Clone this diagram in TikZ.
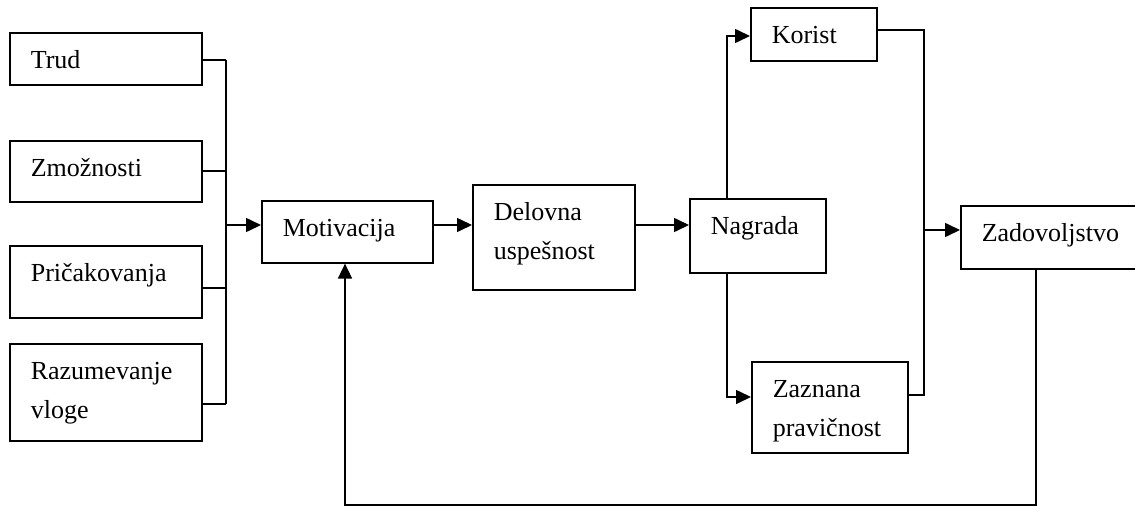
\documentclass[tikz,border=0pt]{standalone}
\usepackage{fontspec}
\setmainfont{Liberation Serif}
\usetikzlibrary{arrows.meta}
\newcommand\boxlbl[3]{\parbox[c][#2][t]{#1}{\raggedright\rule{0pt}{36pt}#3}}
\begin{document}
\begin{tikzpicture}[x=1pt,y=-1pt,
  line width=1.6pt,
  box/.style={draw, line width=1.6pt, anchor=north west, inner xsep=21pt, inner ysep=0pt, font=\fontsize{26}{39}\selectfont},
  conn/.style={line width=1.6pt},
  arr/.style={line width=1.6pt, -{Triangle[length=15pt,width=14pt]}}]
\useasboundingbox (0,0) rectangle (1135,506);
% left inputs
\node[box] (trud) at (9,32) {\boxlbl{150pt}{52pt}{Trud}};
\node[box] (zmoz) at (9,140) {\boxlbl{150pt}{61pt}{Zmožnosti}};
\node[box] (pric) at (9,245) {\boxlbl{150pt}{72pt}{Pričakovanja}};
\node[box] (razu) at (9,343) {\boxlbl{150pt}{97pt}{Razumevanje\\vloge}};
% main chain
\node[box] (moti) at (261,200) {\boxlbl{129pt}{62pt}{Motivacija}};
\node[box] (delo) at (472,184) {\boxlbl{120pt}{105pt}{Delovna\\uspešnost}};
\node[box] (nagr) at (689,198) {\boxlbl{94pt}{74pt}{Nagrada}};
\node[box] (kori) at (750,7) {\boxlbl{84pt}{53pt}{Korist}};
\node[box] (zazn) at (751,361) {\boxlbl{114pt}{91pt}{Zaznana\\pravičnost}};
\node[box] (zado) at (960,205) {\boxlbl{140pt}{63pt}{Zadovoljstvo}};
% bus coordinates
\coordinate (busL) at (226,225);
\coordinate (busR) at (924,230);
\coordinate (fbR) at (1036,505.2);
\coordinate (fbL) at (345,505.2);
% left bus
\draw[conn] ([yshift=-1pt]trud.east) -- ([yshift=-1pt]trud.east -| busL);
\draw[conn] ([yshift=0.5pt]zmoz.east) -- ([yshift=0.5pt]zmoz.east -| busL);
\draw[conn] ([yshift=-6pt]pric.east) -- ([yshift=-6pt]pric.east -| busL);
\draw[conn] ([yshift=-11.5pt]razu.east) -- ([yshift=-11.5pt]razu.east -| busL);
\draw[conn] ([yshift=-1pt]trud.east -| busL) -- ([yshift=-11.5pt]razu.east -| busL);
\draw[arr] (busL) -- (busL -| moti.west);
% chain
\draw[arr] (moti.east |- busL) -- (delo.west |- busL);
\draw[arr] (delo.east |- busL) -- (nagr.west |- busL);
% Nagrada branches
\coordinate (nagrTop) at (727,36);
\coordinate (nagrBot) at (727,397);
\draw[arr] (nagr.north -| nagrTop) -- (nagrTop) -- (nagrTop -| kori.west);
\draw[arr] (nagr.south -| nagrBot) -- (nagrBot) -- (nagrBot -| zazn.west);
% right bus
\coordinate (korR) at (924,30);
\coordinate (zazR) at (924,395);
\draw[conn] (korR -| kori.east) -- (korR) -- (zazR) -- (zazR -| zazn.east);
\draw[arr] (busR) -- (busR -| zado.west);
% feedback
\draw[arr] (zado.south -| fbR) -- (fbR) -- (fbL) -- (moti.south -| fbL);
\end{tikzpicture}
\end{document}
